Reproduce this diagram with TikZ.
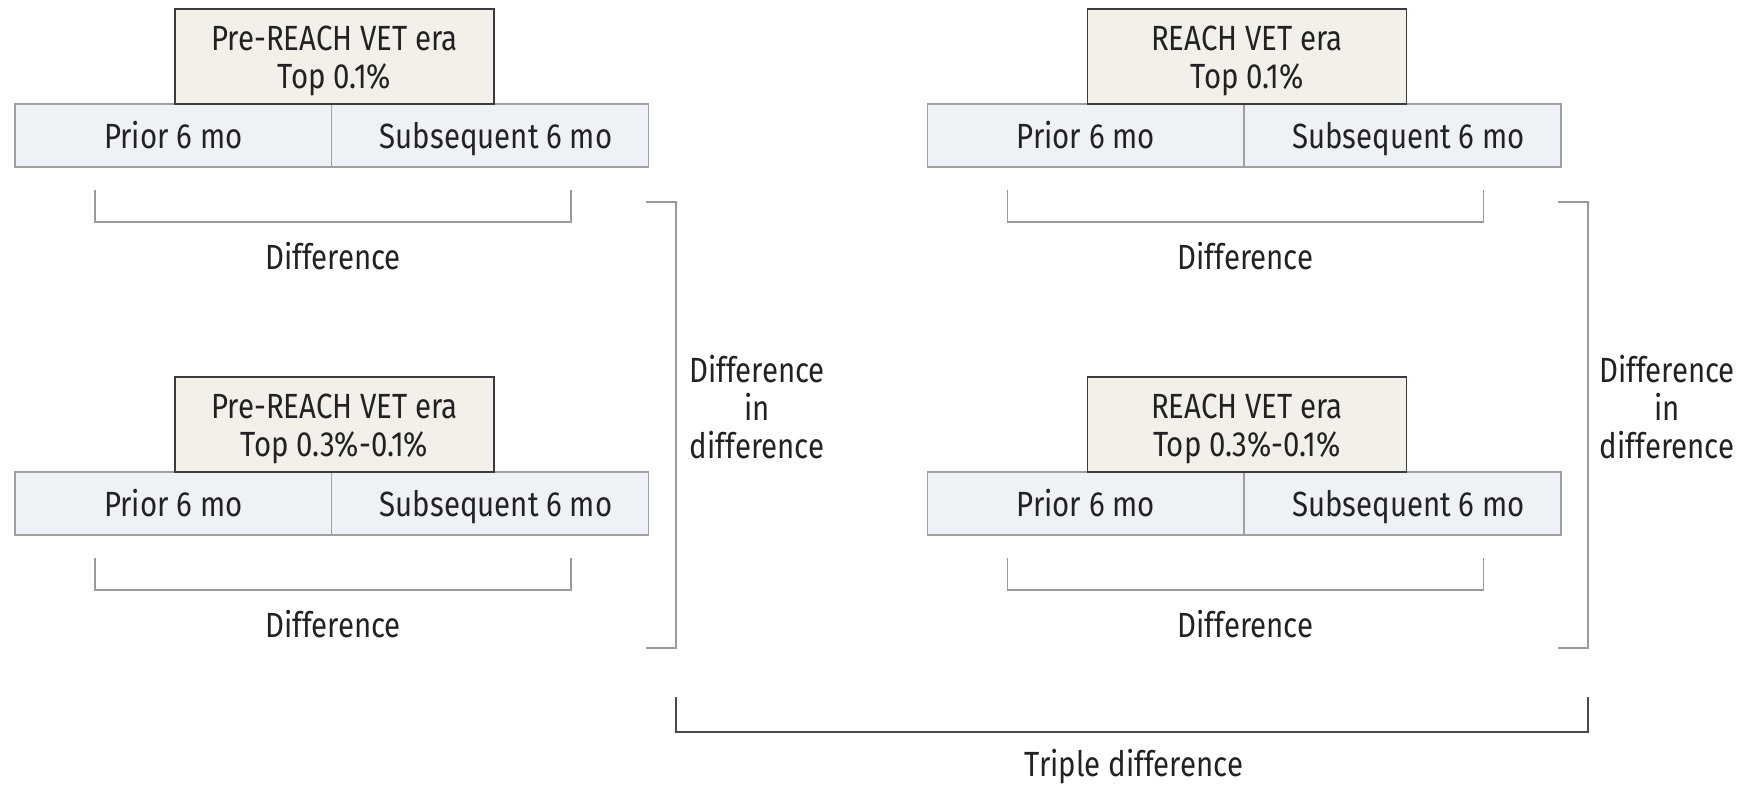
\documentclass[tikz,border=0pt]{standalone}
\usepackage{fontspec}
\setmainfont{Fira Sans}[FakeStretch=0.84]
\definecolor{erafill}{HTML}{F2F0E9}
\definecolor{eraline}{HTML}{3C3C3C}
\definecolor{cellfill}{HTML}{EEF2F6}
\definecolor{cellline}{HTML}{A0A0A0}
\definecolor{brkline}{HTML}{9A9A9A}
\definecolor{tripline}{HTML}{4A4A4A}
\definecolor{txt}{HTML}{222222}
\newcommand\fs{\fontsize{17.5}{19}\selectfont\color{txt}}
\newcommand\grp[4]{%
\begin{scope}[shift={(#2,#3)}]
  \node[cell] (#1p) at (173.25,135.5) {Prior 6 mo};
  \node[cell] (#1s) at (490,135.5) {};
  \node[lbl, text height=14pt, text depth=1.3pt] (#1st) at (496,135.5) {Subsequent 6 mo};
  \node[era] (#1e) at (334.5,56.5) {};
  \node[lbl] (#1t) at (334.5,61) {#4};
  \coordinate (#1a) at (95,190);
  \coordinate (#1b) at (571,190);
  \coordinate (#1c) at (95,222);
  \coordinate (#1d) at (571,222);
  \draw[brk] (#1a) -- (#1c) -- (#1d) -- (#1b);
  \node[lbl] (#1l) at (333,256) {Difference};
\end{scope}}
\begin{document}
\begin{tikzpicture}[x=0.5pt,y=-0.5pt,
  era/.style={draw=eraline, fill=erafill, line width=0.8pt, minimum width=159.5pt, minimum height=47.5pt, inner sep=0pt},
  cell/.style={draw=cellline, fill=cellfill, line width=0.7pt, minimum width=158.4pt, minimum height=31.5pt, inner sep=0pt, font=\fs, text height=14pt, text depth=1.3pt},
  brk/.style={draw=brkline, line width=0.8pt},
  trip/.style={draw=tripline, line width=0.9pt},
  lbl/.style={align=center, font=\fs, inner sep=0pt}]
\useasboundingbox[fill=white] (0,0) rectangle (1749,785);
\grp{A}{0}{0}{Pre-REACH VET era\\Top 0.1\%}
\grp{B}{0}{368}{Pre-REACH VET era\\Top 0.3\%-0.1\%}
\grp{C}{912.5}{0}{REACH VET era\\Top 0.1\%}
\grp{D}{912.5}{368}{REACH VET era\\Top 0.3\%-0.1\%}
% difference in difference brackets
\coordinate (L1) at (646,202); \coordinate (L2) at (676,202);
\coordinate (L3) at (676,648); \coordinate (L4) at (646,648);
\draw[brk] (L1) -- (L2) -- (L3) -- (L4);
\node[lbl] (Ldid) at (757,407) {Difference\\in\\difference};
\coordinate (R1) at (1558,202); \coordinate (R2) at (1588,202);
\coordinate (R3) at (1588,648); \coordinate (R4) at (1558,648);
\draw[brk] (R1) -- (R2) -- (R3) -- (R4);
\node[lbl] (Rdid) at (1667,407) {Difference\\in\\difference};
% triple difference
\coordinate (T1) at (676,697); \coordinate (T2) at (676,732);
\coordinate (T3) at (1588,732); \coordinate (T4) at (1588,697);
\draw[trip] (T1) -- (T2) -- (T3) -- (T4);
\node[lbl] (Tl) at (1134,767) {Triple difference};
\end{tikzpicture}
\end{document}
